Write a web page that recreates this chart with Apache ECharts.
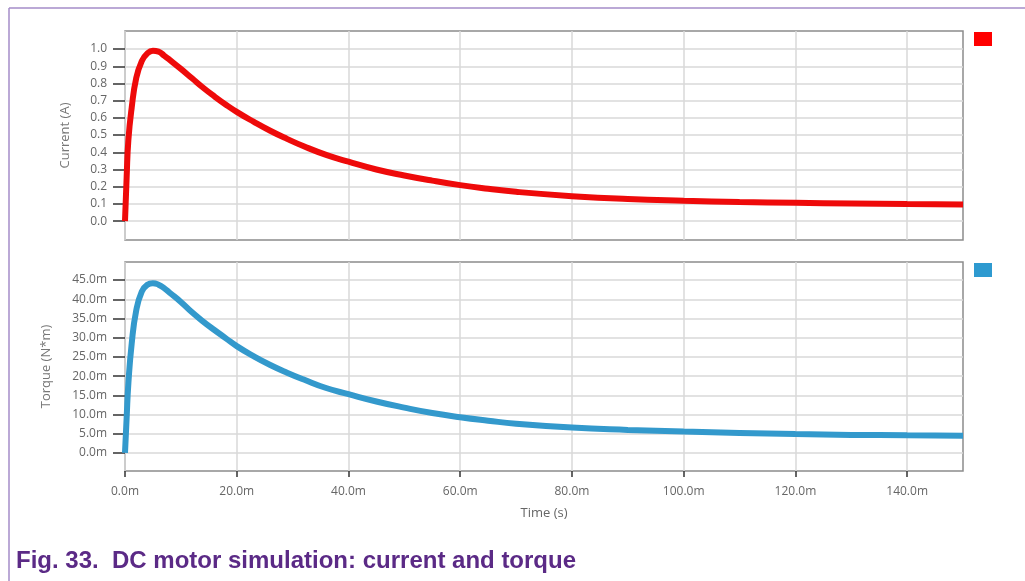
<!DOCTYPE html>
<html>
<head>
<meta charset="utf-8">
<script src="https://cdn.jsdelivr.net/npm/echarts@6/dist/echarts.min.js"></script>
<style>
  html, body { margin: 0; padding: 0; background: #fff; }
  #chart { width: 1025px; height: 581px; }
</style>
</head>
<body>
<div id="chart"></div>
<script>
// time in ms
var timeMs = [0, 0.3, 0.6, 1.2, 2, 3, 4, 5, 6, 7, 8, 10, 12, 14, 16, 18, 20, 23, 26, 29, 32, 36, 40, 45, 50, 55, 60, 65, 70, 80, 90, 100, 110, 120, 130, 140, 150];
// current in A
var currentA = [0, 0.26, 0.47, 0.66, 0.83, 0.93, 0.975, 0.99, 0.985, 0.962, 0.937, 0.885, 0.83, 0.775, 0.725, 0.678, 0.635, 0.578, 0.525, 0.478, 0.435, 0.385, 0.345, 0.30, 0.265, 0.235, 0.209, 0.188, 0.17, 0.145, 0.128, 0.118, 0.111, 0.106, 0.102, 0.099, 0.097];
// torque in mN*m
var torqueMNm = [0, 9.4, 18, 28.5, 37, 42, 43.8, 44.2, 43.8, 42.9, 41.7, 39.3, 36.6, 34.2, 32, 29.9, 27.8, 25.2, 22.9, 20.9, 19.1, 16.9, 15.3, 13.4, 11.8, 10.4, 9.3, 8.4, 7.6, 6.6, 6.0, 5.55, 5.2, 4.9, 4.7, 4.6, 4.5];

var timeTicks = [0, 20, 40, 60, 80, 100, 120, 140];
var currentTicks = [0, 0.1, 0.2, 0.3, 0.4, 0.5, 0.6, 0.7, 0.8, 0.9, 1.0];
var torqueTicks = [0, 5, 10, 15, 20, 25, 30, 35, 40, 45];

var currentData = timeMs.map(function (t, i) { return [t, currentA[i]]; });
var torqueData = timeMs.map(function (t, i) { return [t, torqueMNm[i]]; });

var labelFont = 'Open Sans';
var gridLine = { show: true, lineStyle: { color: '#d9d9d9', width: 1.5 } };

var myChart = echarts.init(document.getElementById('chart'));

var option = {
  backgroundColor: '#fff',
  animation: false,
  textStyle: { fontFamily: labelFont },
  grid: [
    { left: 125, top: 31, width: 838, height: 209, show: true, borderColor: '#8c8c8c', borderWidth: 1.5 },
    { left: 125, top: 262, width: 838, height: 209, show: true, borderColor: '#8c8c8c', borderWidth: 1.5 }
  ],
  legend: [
    {
      data: ['Current'], left: 974, top: 32, padding: 0, itemWidth: 18, itemHeight: 14,
      icon: 'rect', formatter: function () { return ''; }, selectedMode: false
    },
    {
      data: ['Torque'], left: 974, top: 263, padding: 0, itemWidth: 18, itemHeight: 14,
      icon: 'rect', formatter: function () { return ''; }, selectedMode: false
    }
  ],
  xAxis: [
    {
      type: 'value', gridIndex: 0, min: 0, max: 150,
      axisLine: { show: false, onZero: false },
      axisTick: { show: false, customValues: timeTicks },
      axisLabel: { show: false, customValues: timeTicks },
      splitLine: gridLine
    },
    {
      type: 'value', gridIndex: 1, min: 0, max: 150,
      name: 'Time (s)', nameLocation: 'middle', nameGap: 36,
      nameTextStyle: { color: '#666', fontSize: 13, fontFamily: labelFont },
      axisLine: { show: false, onZero: false },
      axisTick: { show: true, customValues: timeTicks, length: 6, lineStyle: { color: '#333', width: 1.5 } },
      axisLabel: {
        customValues: timeTicks, color: '#666', fontSize: 12, margin: 15,
        formatter: function (v) { return v.toFixed(1) + 'm'; }
      },
      splitLine: gridLine
    }
  ],
  yAxis: [
    {
      type: 'value', gridIndex: 0, min: -0.11, max: 1.105,
      name: 'Current (A)', nameLocation: 'middle', nameGap: 53,
      nameTextStyle: { color: '#777', fontSize: 13, fontFamily: labelFont },
      axisLine: { show: false, onZero: false },
      axisTick: { show: true, customValues: currentTicks, length: 12, lineStyle: { color: '#333', width: 1.5 } },
      axisLabel: {
        customValues: currentTicks, color: '#666', fontSize: 12, margin: 18,
        formatter: function (v) { return v.toFixed(1); }
      },
      splitLine: gridLine
    },
    {
      type: 'value', gridIndex: 1, min: -4.7, max: 49.7,
      name: 'Torque (N*m)', nameLocation: 'middle', nameGap: 72,
      nameTextStyle: { color: '#777', fontSize: 13, fontFamily: labelFont },
      axisLine: { show: false, onZero: false },
      axisTick: { show: true, customValues: torqueTicks, length: 12, lineStyle: { color: '#333', width: 1.5 } },
      axisLabel: {
        customValues: torqueTicks, color: '#666', fontSize: 12, margin: 18,
        formatter: function (v) { return v.toFixed(1) + 'm'; }
      },
      splitLine: gridLine
    }
  ],
  series: [
    {
      name: 'Current', type: 'line', xAxisIndex: 0, yAxisIndex: 0,
      data: currentData, smooth: 0.5, showSymbol: false,
      itemStyle: { color: '#ff0000' },
      lineStyle: { color: '#ee0a0a', width: 6 }
    },
    {
      name: 'Torque', type: 'line', xAxisIndex: 1, yAxisIndex: 1,
      data: torqueData, smooth: 0.5, showSymbol: false,
      itemStyle: { color: '#2e9ad0' },
      lineStyle: { color: '#3399cc', width: 6 }
    }
  ],
  graphic: [
    { type: 'line', shape: { x1: 9, y1: 8, x2: 1025, y2: 8 }, style: { stroke: '#a58cc8', lineWidth: 1.5 } },
    { type: 'line', shape: { x1: 9, y1: 8, x2: 9, y2: 581 }, style: { stroke: '#a58cc8', lineWidth: 1.5 } },
    {
      type: 'text', left: 16, top: 549,
      style: {
        text: 'Fig. 33.  DC motor simulation: current and torque',
        fill: '#5b2a86', font: 'bold 24px "Liberation Sans", Arial, sans-serif'
      }
    }
  ]
};

myChart.setOption(option);
</script>
</body>
</html>
